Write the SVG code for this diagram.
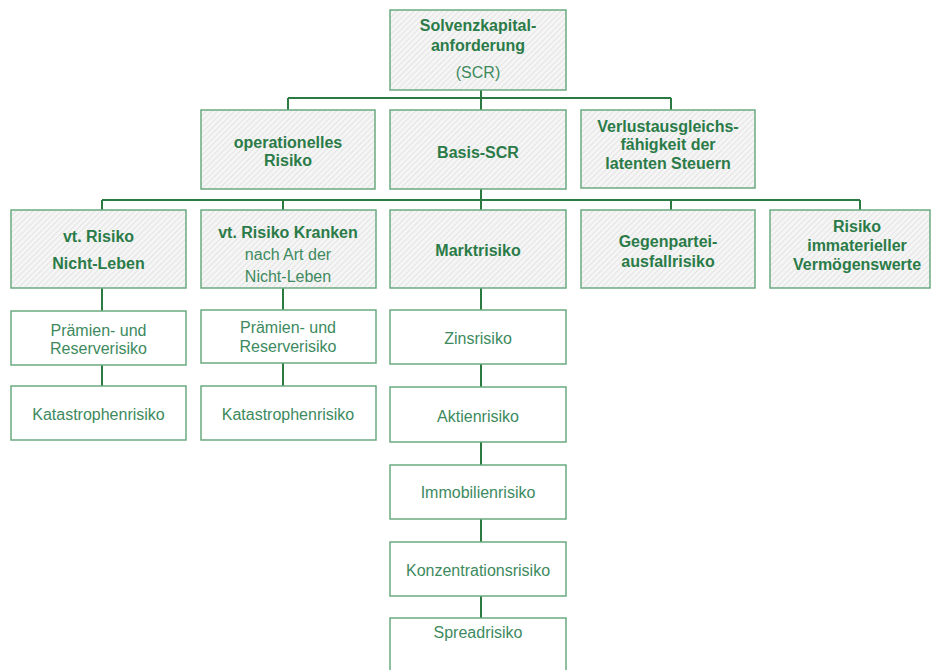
<svg xmlns="http://www.w3.org/2000/svg" width="932" height="670" viewBox="0 0 932 670">
<defs>
<pattern id="hatch" patternUnits="userSpaceOnUse" width="4" height="4" patternTransform="rotate(45)">
<rect width="4" height="4" fill="#f5f5f5"/>
<line x1="0" y1="0" x2="0" y2="4" stroke="#d9d9d9" stroke-width="1.2"/>
</pattern>
<style>
.h{fill:url(#hatch);stroke:#6aaa80;stroke-width:1.5}
.p{fill:#ffffff;stroke:#6aaa80;stroke-width:1.5}
.b{font-family:"Liberation Sans",Arial,sans-serif;font-size:16px;font-weight:bold;fill:#2b7b48;text-anchor:middle}
.r{font-family:"Liberation Sans",Arial,sans-serif;font-size:16px;fill:#3d8a5e;text-anchor:middle}
.c{fill:none;stroke:#2a7a42;stroke-width:2}
</style>
</defs>
<rect width="932" height="670" fill="#ffffff"/>
<g id="connectors">
<path class="c" d="M481 90V98M288 98H671M288 98V110M481 98V110M671 98V110"/>
<path class="c" d="M481 189V200M102 200H860M102 200V210M283 200V210M481 200V210M671 200V210M860 200V210"/>
<path class="c" d="M102 288V311M102 365V386M283 288V310M283 363V386"/>
<path class="c" d="M481 288V310M481 364V387M481 442V465M481 519V542M481 596V618"/>
</g>
<g id="scr">
<rect class="h" x="390" y="10" width="176" height="80"/>
<text class="b" x="478" y="31">Solvenzkapital-</text>
<text class="b" x="478" y="51">anforderung</text>
<text class="r" x="478" y="78">(SCR)</text>
</g>
<g id="oprisk">
<rect class="h" x="201" y="110" width="174" height="79"/>
<text class="b" x="288" y="147.5">operationelles</text>
<text class="b" x="288" y="165.5">Risiko</text>
</g>
<g id="basis">
<rect class="h" x="390" y="110" width="176" height="79"/>
<text class="b" x="478" y="157.5">Basis-SCR</text>
</g>
<g id="verlust">
<rect class="h" x="581" y="110" width="174" height="78"/>
<text class="b" x="668" y="131.5">Verlustausgleichs-</text>
<text class="b" x="668" y="150">fähigkeit der</text>
<text class="b" x="668" y="168.5">latenten Steuern</text>
</g>
<g id="nl">
<rect class="h" x="11" y="210" width="175" height="78"/>
<text class="b" x="98.5" y="242">vt. Risiko</text>
<text class="b" x="98.5" y="269">Nicht-Leben</text>
</g>
<g id="kranken">
<rect class="h" x="201" y="210" width="175" height="78"/>
<text class="b" x="288" y="238">vt. Risiko Kranken</text>
<text class="r" x="288" y="259.5">nach Art der</text>
<text class="r" x="288" y="281.5">Nicht-Leben</text>
</g>
<g id="markt">
<rect class="h" x="390" y="210" width="176" height="78"/>
<text class="b" x="478" y="255.5">Marktrisiko</text>
</g>
<g id="gegen">
<rect class="h" x="581" y="210" width="174" height="78"/>
<text class="b" x="668" y="247">Gegenpartei-</text>
<text class="b" x="668" y="267">ausfallrisiko</text>
</g>
<g id="immat">
<rect class="h" x="770" y="210" width="160" height="78"/>
<text class="b" x="857" y="231.5">Risiko</text>
<text class="b" x="857" y="250.5">immaterieller</text>
<text class="b" x="857" y="269.5">Vermögenswerte</text>
</g>
<g id="nl-praem">
<rect class="p" x="11" y="311" width="175" height="54"/>
<text class="r" x="98.5" y="335.5">Prämien- und</text>
<text class="r" x="98.5" y="353.5">Reserverisiko</text>
</g>
<g id="nl-kat">
<rect class="p" x="11" y="386" width="175" height="54"/>
<text class="r" x="98.5" y="419.5">Katastrophenrisiko</text>
</g>
<g id="kr-praem">
<rect class="p" x="201" y="310" width="175" height="53"/>
<text class="r" x="288" y="333">Prämien- und</text>
<text class="r" x="288" y="351.5">Reserverisiko</text>
</g>
<g id="kr-kat">
<rect class="p" x="201" y="386" width="175" height="54"/>
<text class="r" x="288" y="419.5">Katastrophenrisiko</text>
</g>
<g id="zins">
<rect class="p" x="390" y="310" width="176" height="54"/>
<text class="r" x="478" y="343.5">Zinsrisiko</text>
</g>
<g id="aktien">
<rect class="p" x="390" y="387" width="176" height="55"/>
<text class="r" x="478" y="421.5">Aktienrisiko</text>
</g>
<g id="immo">
<rect class="p" x="390" y="465" width="176" height="54"/>
<text class="r" x="478" y="498">Immobilienrisiko</text>
</g>
<g id="konz">
<rect class="p" x="390" y="542" width="176" height="54"/>
<text class="r" x="478" y="575.5">Konzentrationsrisiko</text>
</g>
<g id="spread">
<rect class="p" x="390" y="618" width="176" height="80"/>
<text class="r" x="478" y="638">Spreadrisiko</text>
</g>
</svg>
